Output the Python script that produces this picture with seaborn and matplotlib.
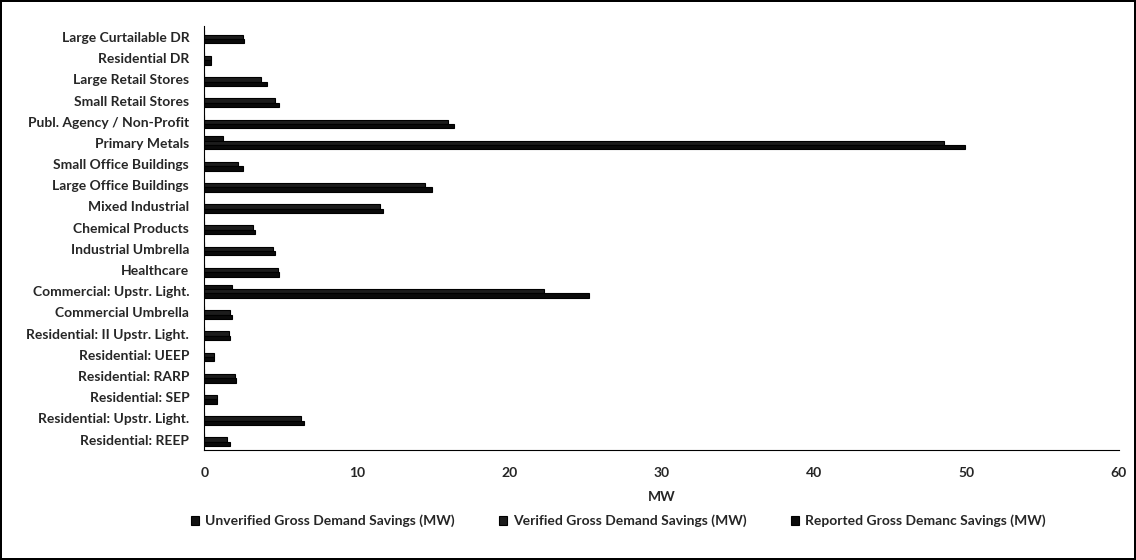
import matplotlib
matplotlib.use('Agg')
import matplotlib.pyplot as plt
import seaborn as sns
import pandas as pd

# categories, top to bottom as in the chart
categories = [
    'Large Curtailable DR', 'Residential DR', 'Large Retail Stores',
    'Small Retail Stores', 'Publ. Agency / Non-Profit', 'Primary Metals',
    'Small Office Buildings', 'Large Office Buildings', 'Mixed Industrial',
    'Chemical Products', 'Industrial Umbrella', 'Healthcare',
    'Commercial: Upstr. Light.', 'Commercial Umbrella',
    'Residential: II Upstr. Light.', 'Residential: UEEP', 'Residential: RARP',
    'Residential: SEP', 'Residential: Upstr. Light.', 'Residential: REEP',
]
unverified = [0, 0, 0, 0, 0, 1.2, 0, 0, 0, 0, 0, 0, 1.8, 0, 0, 0, 0, 0, 0, 0]
verified = [2.5, 0.4, 3.7, 4.6, 16.0, 48.5, 2.2, 14.5, 11.5, 3.2, 4.5, 4.8,
            22.3, 1.7, 1.6, 0.6, 2.0, 0.8, 6.3, 1.5]
reported = [2.6, 0.45, 4.1, 4.9, 16.4, 49.9, 2.5, 14.9, 11.7, 3.3, 4.6, 4.9,
            25.2, 1.8, 1.7, 0.65, 2.1, 0.85, 6.5, 1.7]
series = ['Unverified Gross Demand Savings (MW)',
          'Verified Gross Demand Savings (MW)',
          'Reported Gross Demanc Savings (MW)']

df = pd.DataFrame({
    'category': categories * 3,
    'value': unverified + verified + reported,
    'series': [series[0]] * 20 + [series[1]] * 20 + [series[2]] * 20,
})

sns.set_style('white')
plt.rcParams['font.family'] = ['Lato', 'DejaVu Sans']

fig = plt.figure(figsize=(11.36, 5.6), dpi=100)
ax = fig.add_axes([0.180, 0.196, 0.805, 0.757])

sns.barplot(data=df, y='category', x='value', hue='series', hue_order=series,
            order=categories, palette=['#111111', '#1c1c1c', '#0a0a0a'],
            width=0.62, orient='h', ax=ax, legend=True, edgecolor='black',
            linewidth=0.8)

ax.set_xlim(0, 60)
ax.set_xticks(range(0, 61, 10))
ax.set_xlabel('MW', fontsize=10, fontweight='bold', labelpad=9)
ax.set_ylabel('')
ax.tick_params(axis='y', length=3, width=1, color='black', labelsize=10, pad=8)
ax.tick_params(axis='x', length=3, width=1, color='black', labelsize=10, pad=9)
for lab in ax.get_yticklabels() + ax.get_xticklabels():
    lab.set_fontweight('bold')
sns.despine(ax=ax, top=True, right=True)
ax.spines['left'].set_color('black')
ax.spines['bottom'].set_color('black')

handles, labels = ax.get_legend_handles_labels()
ax.get_legend().remove()
leg = fig.legend(handles, labels, loc='center', ncol=3, frameon=False,
                 bbox_to_anchor=(0.544, 0.07), fontsize=10,
                 handlelength=0.6, handleheight=0.6, handletextpad=0.4,
                 columnspacing=3.2)
for t in leg.get_texts():
    t.set_fontweight('bold')

# border round the whole picture
fig.patch.set_edgecolor('black')
fig.patch.set_linewidth(1.5)

fig.savefig('out.png', dpi=100, edgecolor=fig.get_edgecolor())
